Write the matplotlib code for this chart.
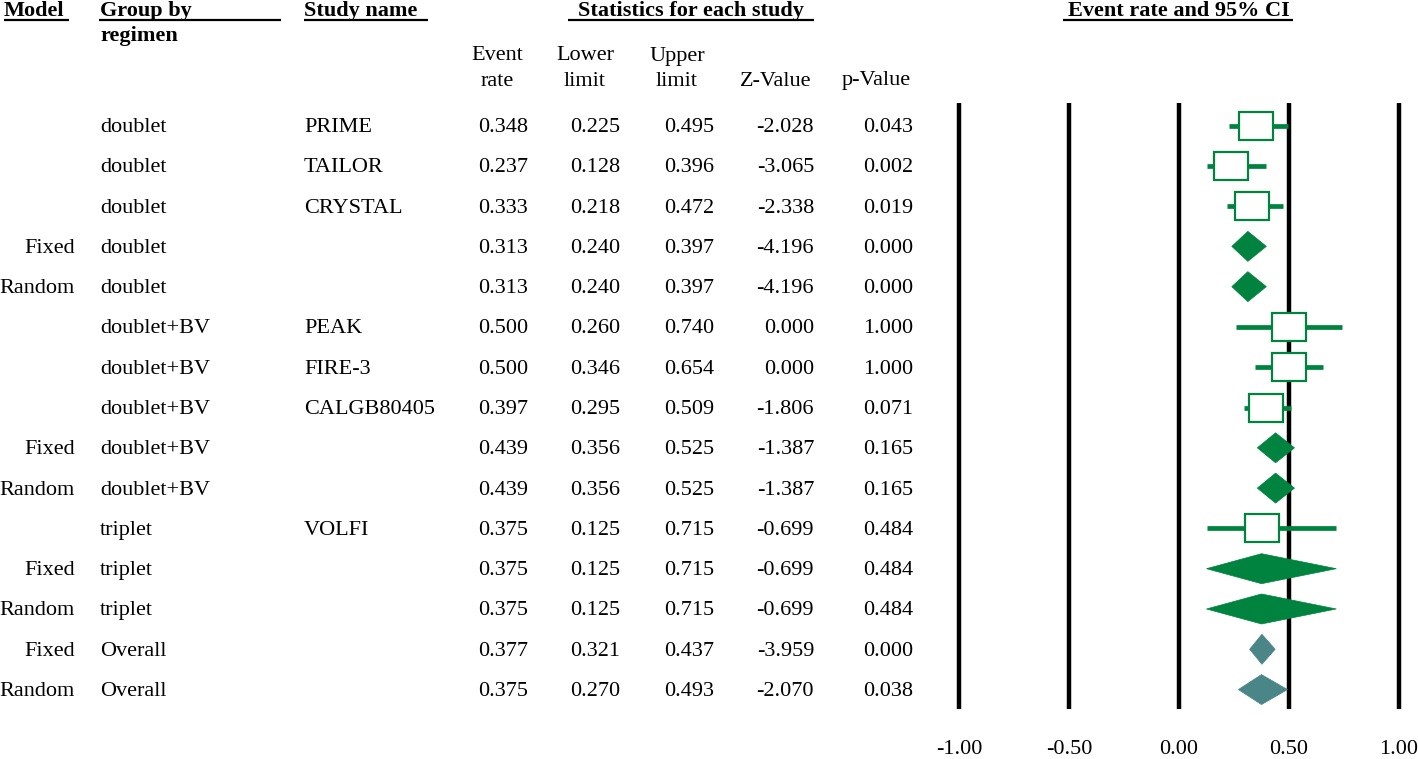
import matplotlib
matplotlib.use("Agg")
import matplotlib.pyplot as plt
from matplotlib.patches import Rectangle, Polygon

plt.rcParams['font.family'] = ['Liberation Serif', 'DejaVu Serif']

models = ['', '', '', 'Fixed', 'Random', '', '', '', 'Fixed', 'Random', '', 'Fixed', 'Random', 'Fixed', 'Random']
groups = ['doublet', 'doublet', 'doublet', 'doublet', 'doublet',
          'doublet+BV', 'doublet+BV', 'doublet+BV', 'doublet+BV', 'doublet+BV',
          'triplet', 'triplet', 'triplet', 'Overall', 'Overall']
studies = ['PRIME', 'TAILOR', 'CRYSTAL', '', '', 'PEAK', 'FIRE-3', 'CALGB80405', '', '',
           'VOLFI', '', '', '', '']
event_rate = [0.348, 0.237, 0.333, 0.313, 0.313, 0.500, 0.500, 0.397, 0.439, 0.439,
              0.375, 0.375, 0.375, 0.377, 0.375]
lower_limit = [0.225, 0.128, 0.218, 0.240, 0.240, 0.260, 0.346, 0.295, 0.356, 0.356,
               0.125, 0.125, 0.125, 0.321, 0.270]
upper_limit = [0.495, 0.396, 0.472, 0.397, 0.397, 0.740, 0.654, 0.509, 0.525, 0.525,
               0.715, 0.715, 0.715, 0.437, 0.493]
z_value = [-2.028, -3.065, -2.338, -4.196, -4.196, 0.000, 0.000, -1.806, -1.387, -1.387,
           -0.699, -0.699, -0.699, -3.959, -2.070]
p_value = [0.043, 0.002, 0.019, 0.000, 0.000, 1.000, 1.000, 0.071, 0.165, 0.165,
           0.484, 0.484, 0.484, 0.000, 0.038]
x_ticks = [-1.0, -0.5, 0.0, 0.5, 1.0]
x_tick_labels = ['-1.00', '-0.50', '0.00', '0.50', '1.00']

GREEN = '#00833e'
TEAL = '#4a8687'
FS = 16
TDY = 2  # text vertical nudge (px)

W, H = 1418, 759
fig = plt.figure(figsize=(W / 100, H / 100), dpi=100)
tab = fig.add_axes([0, 0, 1, 1])
tab.set_xlim(0, W)
tab.set_ylim(H, 0)
tab.axis('off')

y0, dy = 125.5, 40.29
rows = [y0 + i * dy for i in range(len(event_rate))]

def txt(x, y, s, ha='left', bold=False, ax=None):
    (ax or tab).text(x, y + TDY, s, ha=ha, va='center', fontsize=FS,
                     fontweight='bold' if bold else 'normal')

def hdr(x, y, s, x1, x2, uy=20, ha='left'):
    txt(x, y, s, ha=ha, bold=True)
    tab.plot([x1, x2], [uy, uy], color='black', lw=1.6, solid_capstyle='butt')

hdr(4, 9, 'Model', 4, 69)
hdr(100, 9, 'Group by', 99, 281)
txt(100, 34, 'regimen', bold=True)
hdr(304, 9, 'Study name', 304, 428)
hdr(691, 9, 'Statistics for each study', 568, 814, ha='center')
hdr(1179, 9, 'Event rate and 95% CI', 1063, 1293, ha='center')

sub = [(497, 'Event\nrate'), (585, 'Lower\nlimit'), (677, 'Upper\nlimit'),
       (776, 'Z-Value'), (876, 'p-Value')]
for x, s in sub:
    if '\n' in s:
        a, b = s.split('\n')
        txt(x, 54, a, ha='center')
        txt(x, 79, b, ha='center')
    else:
        txt(x, 79, s, ha='center')

for i, y in enumerate(rows):
    txt(75, y, models[i], ha='right')
    txt(100, y, groups[i])
    txt(304, y, studies[i])
    txt(528, y, f'{event_rate[i]:.3f}', ha='right')
    txt(620, y, f'{lower_limit[i]:.3f}', ha='right')
    txt(714, y, f'{upper_limit[i]:.3f}', ha='right')
    txt(814, y, f'{z_value[i]:.3f}', ha='right')
    txt(913, y, f'{p_value[i]:.3f}', ha='right')

# forest axes: pixel 1179 -> 0, 220 px per unit
left_px, right_px = 930, W
ppu = 220.0
zero_px = 1179
fx = fig.add_axes([left_px / W, 0, (right_px - left_px) / W, 1])
fx.set_xlim((left_px - zero_px) / ppu, (right_px - zero_px) / ppu)
fx.set_ylim(H, 0)
fx.axis('off')

for t, lab in zip(x_ticks, x_tick_labels):
    fx.plot([t, t], [103, 709], color='black', lw=3.2, solid_capstyle='butt', zorder=1)
    txt(t, 748, lab, ha='center', ax=fx)

box_w = 34 / ppu
box_h = 28
dia_h = 30
for i, y in enumerate(rows):
    est, lo, hi = event_rate[i], lower_limit[i], upper_limit[i]
    if studies[i]:
        fx.plot([lo, hi], [y, y], color=GREEN, lw=3.4, solid_capstyle='butt', zorder=2)
        fx.add_patch(Rectangle((est - box_w / 2, y - box_h / 2), box_w, box_h,
                               facecolor='white', edgecolor=GREEN, lw=1.6, zorder=3))
    else:
        col = TEAL if groups[i] == 'Overall' else GREEN
        fx.add_patch(Polygon([(lo, y), (est, y - dia_h / 2), (hi, y), (est, y + dia_h / 2)],
                             closed=True, facecolor=col, edgecolor=col, lw=0.5, zorder=3))

fig.savefig('out.png', dpi=100)
